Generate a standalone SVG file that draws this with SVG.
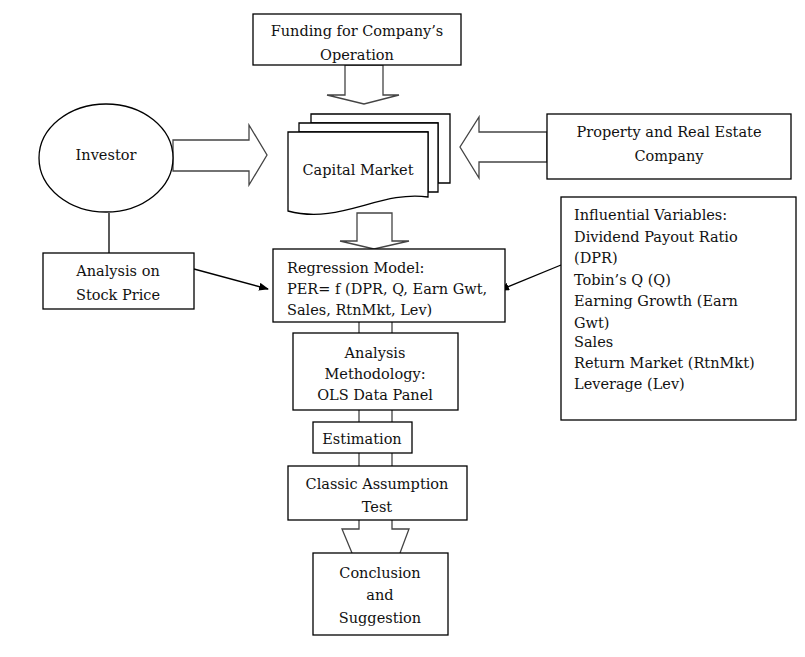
<svg xmlns="http://www.w3.org/2000/svg" width="805" height="657" viewBox="0 0 805 657">
<style>
.b{fill:#fff;stroke:#000;stroke-width:1.3}
.g{fill:#fff;stroke:#444;stroke-width:1.3}
.l{fill:none;stroke:#000;stroke-width:1.3}
.t{font-family:"DejaVu Serif","Liberation Serif",serif;font-size:14.5px;fill:#111}
.c{text-anchor:middle}
</style>
<defs>
<marker id="ah" markerWidth="10" markerHeight="8" refX="9" refY="4" orient="auto" markerUnits="userSpaceOnUse">
<path d="M0,0 L10,4 L0,8 Z" fill="#000"/>
</marker>
</defs>
<g id="connectors">
<path class="g" d="M345,65 V95 H327 L364,104 L399,95 H383 V65 Z"/>
<path class="g" d="M173,140 H249 V125 L267,155 L249,185 V171 H173 Z"/>
<path class="g" d="M547,132 H479 V117 L460,147 L479,178 V162 H547 Z"/>
<path class="g" d="M357,213 V241 H340 L374,249 L409,241 H392 V213 Z"/>
<line class="l" x1="109" y1="213" x2="109" y2="253"/>
<line class="l" x1="194" y1="269" x2="268" y2="289" marker-end="url(#ah)"/>
<line class="l" x1="561" y1="265" x2="500" y2="290" marker-end="url(#ah)"/>
<path class="g" d="M359,322 V333 M392,322 V333 M359,410 V422 M392,410 V422 M359,453 V466 M392,453 V466"/>
<path class="g" d="M359,520 V529 H342 L352,553 M392,520 V529 H409 L400,553"/>
</g>
<g id="funding">
<rect class="b" x="253" y="14" width="208" height="51"/>
<text class="t c" x="357" y="36">Funding for Company’s</text>
<text class="t c" x="357" y="60">Operation</text>
</g>
<g id="capital-market">
<path class="b" d="M311,114 H450 V183 H438 V123 H311 Z"/>
<path class="b" d="M299,123 H438 V192 H428 V132 H299 Z"/>
<path class="b" d="M288,132 H428 V197 C380,190 340,225 288,211 Z"/>
<text class="t c" x="358" y="175">Capital Market</text>
</g>
<g id="investor">
<ellipse class="b" cx="106" cy="158" rx="67" ry="54"/>
<text class="t c" x="106" y="160">Investor</text>
</g>
<g id="property">
<rect class="b" x="547" y="114" width="244" height="65"/>
<text class="t c" x="669" y="137">Property and Real Estate</text>
<text class="t c" x="669" y="161">Company</text>
</g>
<g id="analysis-stock">
<rect class="b" x="43" y="253" width="151" height="56"/>
<text class="t c" x="118" y="276">Analysis on</text>
<text class="t c" x="118" y="300">Stock Price</text>
</g>
<g id="regression">
<rect class="b" x="273" y="249" width="232" height="73"/>
<text class="t" x="287" y="273">Regression Model:</text>
<text class="t" x="287" y="294">PER= f (DPR, Q, Earn Gwt,</text>
<text class="t" x="287" y="315">Sales, RtnMkt, Lev)</text>
</g>
<g id="variables">
<rect class="b" x="561" y="197" width="235" height="223"/>
<text class="t" x="574" y="220">Influential Variables:</text>
<text class="t" x="574" y="242">Dividend Payout Ratio</text>
<text class="t" x="574" y="263">(DPR)</text>
<text class="t" x="574" y="285">Tobin’s Q (Q)</text>
<text class="t" x="574" y="306">Earning Growth (Earn</text>
<text class="t" x="574" y="328">Gwt)</text>
<text class="t" x="574" y="347">Sales</text>
<text class="t" x="574" y="368">Return Market (RtnMkt)</text>
<text class="t" x="574" y="389">Leverage (Lev)</text>
</g>
<g id="methodology">
<rect class="b" x="293" y="333" width="165" height="77"/>
<text class="t c" x="375" y="358">Analysis</text>
<text class="t c" x="375" y="379">Methodology:</text>
<text class="t c" x="375" y="400">OLS Data Panel</text>
</g>
<g id="estimation">
<rect class="b" x="313" y="422" width="99" height="31"/>
<text class="t c" x="362" y="444">Estimation</text>
</g>
<g id="classic">
<rect class="b" x="288" y="466" width="179" height="54"/>
<text class="t c" x="377" y="489">Classic Assumption</text>
<text class="t c" x="377" y="512">Test</text>
</g>
<g id="conclusion">
<rect class="b" x="313" y="553" width="135" height="82"/>
<text class="t c" x="380" y="578">Conclusion</text>
<text class="t c" x="380" y="600">and</text>
<text class="t c" x="380" y="623">Suggestion</text>
</g>
</svg>
